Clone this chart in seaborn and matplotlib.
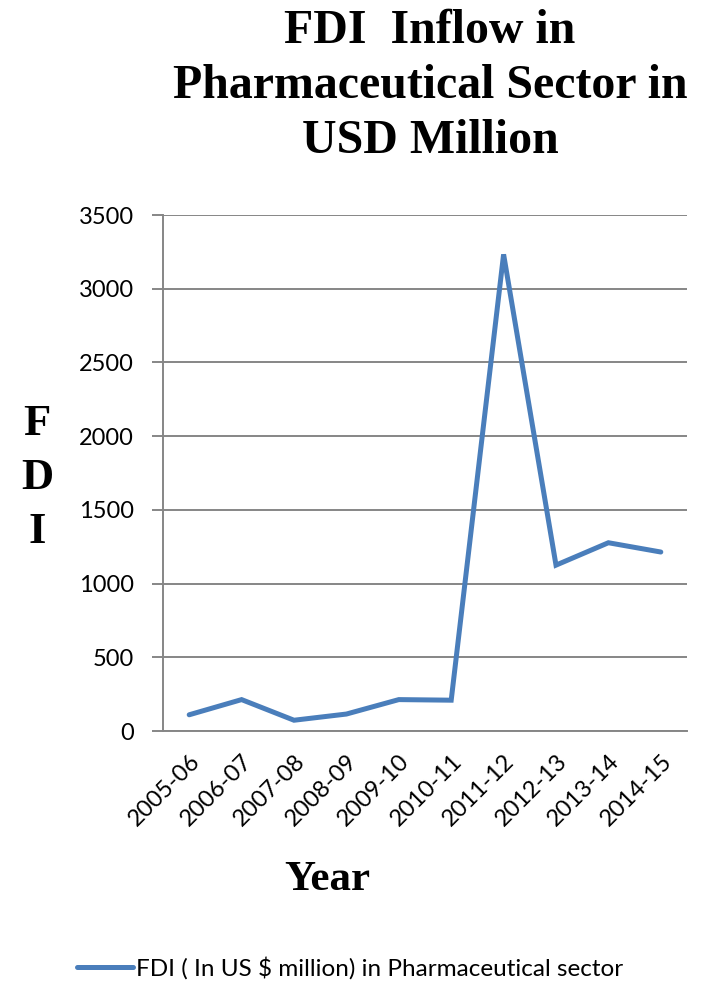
import numpy as np
import pandas as pd
import matplotlib
matplotlib.use("Agg")
import matplotlib.pyplot as plt
import seaborn as sns

years = ["2005-06", "2006-07", "2007-08", "2008-09", "2009-10",
         "2010-11", "2011-12", "2012-13", "2013-14", "2014-15"]
fdi_values = [110, 213, 73, 115, 213, 209, 3233, 1125, 1277, 1214]
series_name = "FDI ( In US $ million) in Pharmaceutical sector"
y_ticks = [0, 500, 1000, 1500, 2000, 2500, 3000, 3500]

sns.set_theme(style="white")
plt.rcParams["font.family"] = ["Lato", "DejaVu Sans"]
plt.rcParams["text.color"] = "black"

df = pd.DataFrame({"Year": years, "FDI": fdi_values})

fig = plt.figure(figsize=(7.04, 9.81), dpi=100)
ax = fig.add_axes([163 / 704, 1 - 731 / 981, 524 / 704, 516 / 981])

line_color = "#4A7EBB"
grid_color = "#868686"

sns.lineplot(data=df, x="Year", y="FDI", ax=ax, color=line_color,
             linewidth=3.6, solid_capstyle="round", solid_joinstyle="miter",
             label=series_name, legend=False, sort=False)

ax.set_xlim(-0.5, len(years) - 0.5)
ax.set_ylim(0, 3500)
ax.set_yticks(y_ticks)
ax.set_yticklabels([str(v) for v in y_ticks])
ax.set_xticks(range(len(years)))
ax.set_xticklabels(years, rotation=45, ha="right", rotation_mode="anchor")
ax.set_xticks(np.arange(-0.5, len(years), 1), minor=True)

ax.yaxis.grid(True, color=grid_color, linewidth=1.4)
ax.xaxis.grid(False)
ax.set_axisbelow(True)
for side in ["top", "right"]:
    ax.spines[side].set_visible(False)
for side in ["left", "bottom"]:
    ax.spines[side].set_color(grid_color)
    ax.spines[side].set_linewidth(1.4)

ax.tick_params(axis="x", which="major", length=0, pad=14, labelsize=17, labelcolor="black")
ax.tick_params(axis="x", which="minor", length=8, width=1.4, color=grid_color, direction="out")
ax.tick_params(axis="y", which="major", length=8, width=1.4, color=grid_color,
               direction="out", pad=13, labelsize=17, labelcolor="black", left=True)
ax.set_xlabel("")
ax.set_ylabel("")

serif = ["Liberation Serif", "DejaVu Serif"]
fig.text(430 / 704, 1 - 86 / 981,
         "FDI  Inflow in\nPharmaceutical Sector in\nUSD Million",
         ha="center", va="center", fontsize=34.5, fontweight="bold",
         family=serif, linespacing=1.33, color="black")
fig.text(37 / 704, 1 - 478 / 981, "F\nD\nI", ha="center", va="center",
         fontsize=32, fontweight="bold", family=serif, linespacing=1.45, color="black")
fig.text(327 / 704, 1 - 880 / 981, "Year", ha="center", va="center",
         fontsize=31, fontweight="bold", family=serif, color="black")

handles, labels = ax.get_legend_handles_labels()
fig.legend(handles, labels, loc="center", bbox_to_anchor=(350 / 704, 1 - 968 / 981),
           frameon=False, fontsize=17.5, handlelength=2.3, handletextpad=0.12,
           labelcolor="black")

fig.savefig("out.png", dpi=100)
